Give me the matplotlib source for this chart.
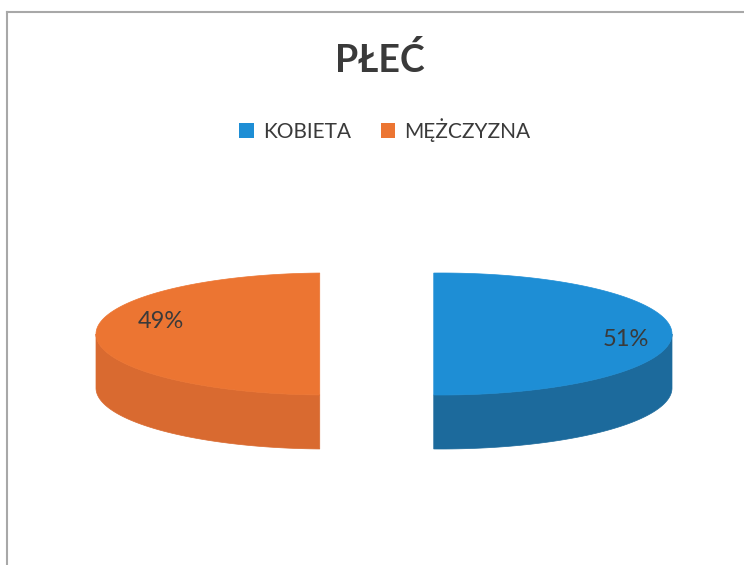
import numpy as np
import matplotlib
matplotlib.use("Agg")
import matplotlib.pyplot as plt
from matplotlib.patches import Polygon, Patch
from matplotlib.lines import Line2D

plt.rcParams['font.family'] = ['Lato', 'DejaVu Sans']

# ---- data ----
title = "PŁEĆ"
categories = ["KOBIETA", "MĘŻCZYZNA"]
values = [51, 49]

# ---- style ----
top_colors = ["#1E8ED5", "#EC7532"]
wall_colors = ["#1C6A9C", "#D96A30"]
text_color = "#3A3A3A"

W, H = 744, 565
fig = plt.figure(figsize=(W / 100, H / 100), dpi=100)
fig.patch.set_facecolor("white")
ax = fig.add_axes([0, 0, 1, 1])
ax.set_xlim(0, W)
ax.set_ylim(H, 0)
ax.axis("off")

# pie geometry (pixel space)
cx, cy = 384, 334      # pie centre
a, b = 231, 61         # ellipse semi-axes of top face
depth = 54             # thickness
explode = 57
start = -1.8           # degrees, clockwise from back

total = float(sum(values))
bounds = start + 360 * np.concatenate([[0], np.cumsum(values)]) / total
label_r = [0.80, 0.72]
label_dy = [6, -12]

for i, v in enumerate(values):
    t0, t1 = bounds[i], bounds[i + 1]
    mid = np.radians((t0 + t1) / 2)
    ox = cx + explode * np.sin(mid)
    oy = cy - explode * (b / a) * np.cos(mid)

    # side wall (visible front part)
    w0, w1 = max(t0, 90), min(t1, 270)
    if w1 > w0:
        th = np.radians(np.linspace(w0, w1, 120))
        xs = ox + a * np.sin(th)
        ys = oy - b * np.cos(th)
        pts = np.vstack([np.column_stack([xs, ys]),
                         np.column_stack([xs[::-1], ys[::-1] + depth])])
        ax.add_patch(Polygon(pts, closed=True, facecolor=wall_colors[i],
                             edgecolor=wall_colors[i], linewidth=0.5))

    # top face
    th = np.radians(np.linspace(t0, t1, 240))
    xs = ox + a * np.sin(th)
    ys = oy - b * np.cos(th)
    pts = np.column_stack([xs, ys])
    ax.add_patch(Polygon(pts, closed=True, facecolor=top_colors[i],
                         edgecolor=top_colors[i], linewidth=0.5))

    # percentage label
    lx = ox + label_r[i] * a * np.sin(mid)
    ly = oy + label_dy[i]
    ax.text(lx, ly, f"{v / total * 100:.0f}%", ha="center", va="center",
            fontsize=17, color=text_color)

# title
fig.text(380 / W, 1 - 60 / H, title, ha="center", va="center",
         fontsize=27, fontweight="bold", color=text_color)

# legend
handles = [Patch(facecolor=top_colors[i], edgecolor="none", label=c)
           for i, c in enumerate(categories)]
fig.legend(handles=handles, loc="center", bbox_to_anchor=(385 / W, 1 - 130 / H),
           ncol=2, frameon=False, fontsize=15, handlelength=0.7,
           handleheight=0.7, handletextpad=0.45, columnspacing=1.4,
           labelcolor=text_color)

# chart-area border (top and left visible)
fig.add_artist(Line2D([7 / W, 1], [1 - 12 / H, 1 - 12 / H], color="#A8A8A8", lw=1.5))
fig.add_artist(Line2D([7 / W, 7 / W], [0, 1 - 12 / H], color="#A8A8A8", lw=1.5))

fig.savefig("out.png", dpi=100, facecolor="white")
